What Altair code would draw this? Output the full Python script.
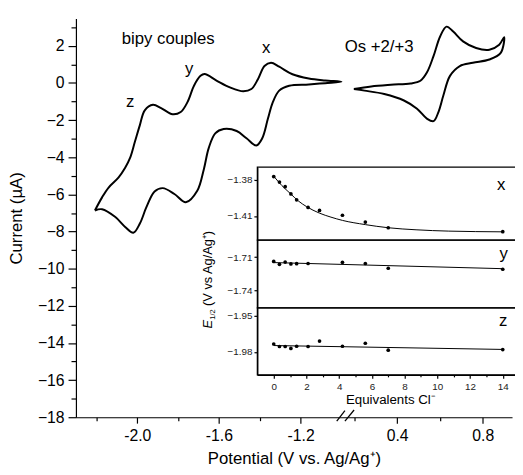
import altair as alt
import pandas as pd

# ---------------- main cyclic voltammogram (potential V, current uA) ----------------
bipy_E = [-2.207, -2.172, -2.140, -2.092, -2.059, -2.035, -2.011, -1.987, -1.963, -1.923,
          -1.883, -1.827, -1.787, -1.754, -1.722, -1.690, -1.670, -1.610, -1.546, -1.481,
          -1.441, -1.409, -1.377, -1.345, -1.305, -1.240, -1.160, -1.080, -1.000,
          -1.080, -1.160, -1.256, -1.305, -1.336, -1.360, -1.388, -1.417, -1.465, -1.513,
          -1.577, -1.618, -1.650, -1.674, -1.706, -1.762, -1.818, -1.875, -1.915, -1.955,
          -1.987, -2.019, -2.059, -2.107, -2.172, -2.207]
bipy_I = [-6.866, -6.161, -5.631, -5.101, -4.571, -4.040, -3.155, -2.269, -1.474, -1.177,
          -1.352, -1.686, -1.564, -1.034, -0.148, 0.382, 0.477, 0.117, -0.239, -0.451,
          -0.329, 0.201, 0.912, 1.087, 0.875, 0.467, 0.239, 0.133, 0.064,
          -0.011, -0.080, -0.148, -0.414, -1.034, -1.919, -2.980, -3.367, -2.980, -2.587,
          -2.481, -2.715, -3.510, -4.655, -5.806, -6.426, -5.981, -5.663, -5.843, -6.691,
          -7.572, -8.070, -7.752, -7.222, -6.800, -6.866]

os_E = [0.198, 0.279, 0.371, 0.463, 0.509, 0.539, 0.570, 0.601, 0.631, 0.662, 0.708, 0.769,
        0.831, 0.877, 0.900,
        0.884, 0.831, 0.754, 0.693, 0.647, 0.616, 0.593, 0.570, 0.539, 0.493, 0.432, 0.340,
        0.248, 0.198]
os_I = [-0.329, -0.186, -0.095, -0.027, 0.117, 0.557, 1.442, 2.503, 3.033, 2.768, 2.238, 1.882,
        1.792, 2.057, 2.466,
        1.617, 1.262, 1.087, 0.912, 0.382, -0.679, -1.564, -2.057, -1.919, -1.389, -0.944, -0.594,
        -0.414, -0.329]

# ---------------- inset: E1/2 vs equivalents Cl- ----------------
eq_x = [0, 0.35, 0.7, 1.05, 1.4, 2.1, 2.8, 4.2, 5.6, 7.0, 14.0]
e_x = [-1.3773, -1.3819, -1.3857, -1.3917, -1.3966, -1.4029, -1.4054, -1.4094, -1.4151, -1.4198, -1.4231]
fit_x_eq = [0, 0.5, 1, 1.5, 2, 2.8, 3.5, 4.2, 5.6, 7, 8.7, 10.7, 14]
fit_x = [-1.3770, -1.3848, -1.3912, -1.3975, -1.4022, -1.4077, -1.4110, -1.4137, -1.4172,
         -1.4198, -1.4215, -1.4226, -1.4232]

eq_y = [0, 0.35, 0.7, 1.05, 1.4, 2.1, 4.2, 5.6, 7.0, 14.0]
e_y = [-1.7139, -1.7166, -1.7145, -1.7162, -1.7160, -1.7158, -1.7148, -1.7158, -1.7201, -1.7210]
fit_y_eq = [0, 14]
fit_y = [-1.7150, -1.7205]

eq_z = [0, 0.35, 0.7, 1.05, 1.4, 2.1, 2.8, 4.2, 5.6, 7.0, 14.0]
e_z = [-1.9735, -1.9756, -1.9756, -1.9772, -1.9754, -1.9756, -1.9711, -1.9754, -1.9729, -1.9786, -1.9781]
fit_z_eq = [0, 14]
fit_z = [-1.9748, -1.9780]

# ---------------- layout / broken axis helpers ----------------
FONT = "Liberation Sans"
W, H = 443, 405
P0, K = -0.7277, 1.048          # broken-axis mapping of the right-hand segment


def brk(e):
    return round(P0 + (e - 0.4) * K, 4)


main_rows = []
for i, (e, c) in enumerate(zip(bipy_E, bipy_I)):
    main_rows.append({"p": e, "I": c, "seg": "bipy", "o": i})
for i, (e, c) in enumerate(zip(os_E, os_I)):
    main_rows.append({"p": brk(e), "I": c, "seg": "os", "o": i})
main_df = pd.DataFrame(main_rows)

major_x = {-2.0: "-2.0", -1.6: "-1.6", -1.2: "-1.2", brk(0.4): "0.4", brk(0.8): "0.8"}
minor_x = [-2.2, -1.8, -1.4, brk(0.2), brk(0.6)]
x_vals = sorted(list(major_x.keys()) + minor_x)
label_expr = " : ".join(f"datum.value == {v} ? '{t}'" for v, t in major_x.items()) + " : ''"
major_test = " || ".join(f"datum.value == {v}" for v in major_x)

x_main = alt.X("p:Q", scale=alt.Scale(domain=[-2.3, -0.165], nice=False, zero=False),
               axis=alt.Axis(values=x_vals, labelExpr=label_expr, title="Potential (V vs. Ag/Ag⁺)",
                             tickSize={"condition": {"test": major_test, "value": 6}, "value": 3.5},
                             labelPadding=5, titlePadding=7, labelFontSize=16, titleFontSize=17,
                             labelOverlap=False, labelFlush=False, grid=False, orient="bottom"))
y_main = alt.Y("I:Q", scale=alt.Scale(domain=[-18, 3.47], nice=False, zero=False),
               axis=alt.Axis(values=list(range(-18, 4)),
                             labelExpr="datum.value % 2 == 0 ? datum.label : ''",
                             tickSize={"condition": {"test": "datum.value % 2 == 0", "value": 8}, "value": 5},
                             labelPadding=4, titlePadding=12, labelFontSize=16, titleFontSize=17,
                             title="Current (µA)", labelOverlap=False, grid=False, orient="left"))

curves = alt.Chart(main_df).mark_line(color="black", strokeWidth=2, interpolate="catmull-rom").encode(
    x=x_main, y=y_main, detail="seg:N", order="o:Q")

ann_df = pd.DataFrame({
    "p": [-1.848, -2.035, -1.746, -1.369, brk(0.316)],
    "I": [2.36, -1.03, 0.73, 1.88, 1.92],
    "t": ["bipy couples", "z", "y", "x", "Os +2/+3"],
})
ann = alt.Chart(ann_df).mark_text(font=FONT, fontSize=17, color="black", baseline="middle").encode(
    x=x_main, y=y_main, text="t:N")

brk_df = pd.DataFrame({"p": [-1.0231, -0.9831], "I": [-18.21, -18.21],
                       "p2": [-0.9831, -0.9383], "I2": [-17.65, -17.61]})
breaks = alt.Chart(brk_df).mark_rule(color="black", strokeWidth=1.3).encode(
    x=x_main, y=y_main, x2="p2:Q", y2="I2:Q")

main = alt.layer(curves, ann, breaks)

# ---------------- inset panels (they run off the right edge, as in the original) ----------------
EQ_DOM = [-1.0, 15.2]
EQ_RANGE = [184.3, 453.5]


def panel(eqs, es, feq, fe, dom, rng, letter, let_pos, show_x, interp):
    xa = alt.Axis(values=list(range(0, 15)),
                  labelExpr="datum.value % 2 == 0 ? datum.label : ''",
                  tickSize={"condition": {"test": "datum.value % 2 == 0", "value": 3.5}, "value": 2},
                  orient="bottom", offset=-(H - rng[0]), title="Equivalents Cl⁻",
                  labelFontSize=10, titleFontSize=13.5, labelPadding=3, titlePadding=2,
                  labelColor="#222", labelOverlap=False, labelFlush=False, grid=False) if show_x else None
    xe = alt.X("eq:Q", scale=alt.Scale(domain=EQ_DOM, range=EQ_RANGE, nice=False, zero=False),
               axis=xa)
    ticks = [v for v in [-1.38, -1.41, -1.71, -1.74, -1.95, -1.98] if dom[0] <= v <= dom[1]]
    ye = alt.Y("E:Q", scale=alt.Scale(domain=dom, range=rng, nice=False, zero=False),
               axis=alt.Axis(values=ticks, format=".2f", orient="left", offset=-EQ_RANGE[0],
                             tickSize=3.5, labelFontSize=10, labelPadding=2, labelColor="#222",
                             title=None, grid=False, labelOverlap=False, labelFlush=False))
    frame_df = pd.DataFrame({"eq": [EQ_DOM[0]], "eq2": [EQ_DOM[1]], "E": [dom[0]], "E2": [dom[1]]})
    frame = alt.Chart(frame_df).mark_rect(fillOpacity=0, stroke="black", strokeWidth=1.3).encode(
        x=xe, x2="eq2:Q", y=ye, y2="E2:Q")
    pts = alt.Chart(pd.DataFrame({"eq": eqs, "E": es})).mark_circle(size=14, color="black", opacity=1).encode(
        x=xe, y=ye)
    fit = alt.Chart(pd.DataFrame({"eq": feq, "E": fe})).mark_line(
        color="black", strokeWidth=1, interpolate=interp).encode(x=xe, y=ye)
    lab = alt.Chart(pd.DataFrame({"eq": [let_pos[0]], "E": [let_pos[1]], "t": [letter]})).mark_text(
        font=FONT, fontSize=17, color="black", baseline="middle").encode(x=xe, y=ye, text="t:N")
    layers = [frame, fit, pts, lab]
    return layers, xe, ye


lx, _, _ = panel(eq_x, e_x, fit_x_eq, fit_x, [-1.43, -1.3695], [225, 151], "x", (13.9, -1.3841), False, "monotone")
ly, _, _ = panel(eq_y, e_y, fit_y_eq, fit_y, [-1.756, -1.6946], [294, 225], "y", (14.05, -1.7071), False, "linear")
lz, xz, yz = panel(eq_z, e_z, fit_z_eq, fit_z, [-1.999, -1.9438], [362, 294], "z", (14.02, -1.9543), True, "linear")

# rotated inset y title: italic E, subscript 1/2, then the rest
tdf = pd.DataFrame({"eq": [-3.76], "E": [-1.9608]})
t_e = alt.Chart(tdf).mark_text(text="E", font=FONT, fontSize=13, fontStyle="italic", angle=270,
                               align="left", baseline="alphabetic", color="black").encode(x=xz, y=yz)
t_sub = alt.Chart(tdf).mark_text(text="1/2", font=FONT, fontSize=7.5, angle=270, align="left",
                                 baseline="alphabetic", dx=9, dy=3, color="black").encode(x=xz, y=yz)
t_rest = alt.Chart(tdf).mark_text(text="(V vs Ag/Ag⁺)", font=FONT, fontSize=13, angle=270, align="left",
                                  baseline="alphabetic", dx=23, color="black").encode(x=xz, y=yz)

px_ = alt.layer(*lx)
py_ = alt.layer(*ly)
pz_ = alt.layer(*lz, t_e, t_sub, t_rest)

chart = alt.layer(main, px_, py_, pz_).resolve_scale(
    x="independent", y="independent"
).properties(
    width=W, height=H,
    autosize=alt.AutoSizeParams(type="none"),
    padding={"left": 69, "top": 7, "right": 3, "bottom": 55},
).configure_view(stroke="transparent").configure_axis(
    domainColor="black", tickColor="black", labelColor="black", titleColor="black",
    labelFont=FONT, titleFont=FONT, titleFontWeight="normal", domainWidth=1.2, tickWidth=1.2,
)

chart.save("out.html", embed_options={"renderer": "svg", "actions": False})
